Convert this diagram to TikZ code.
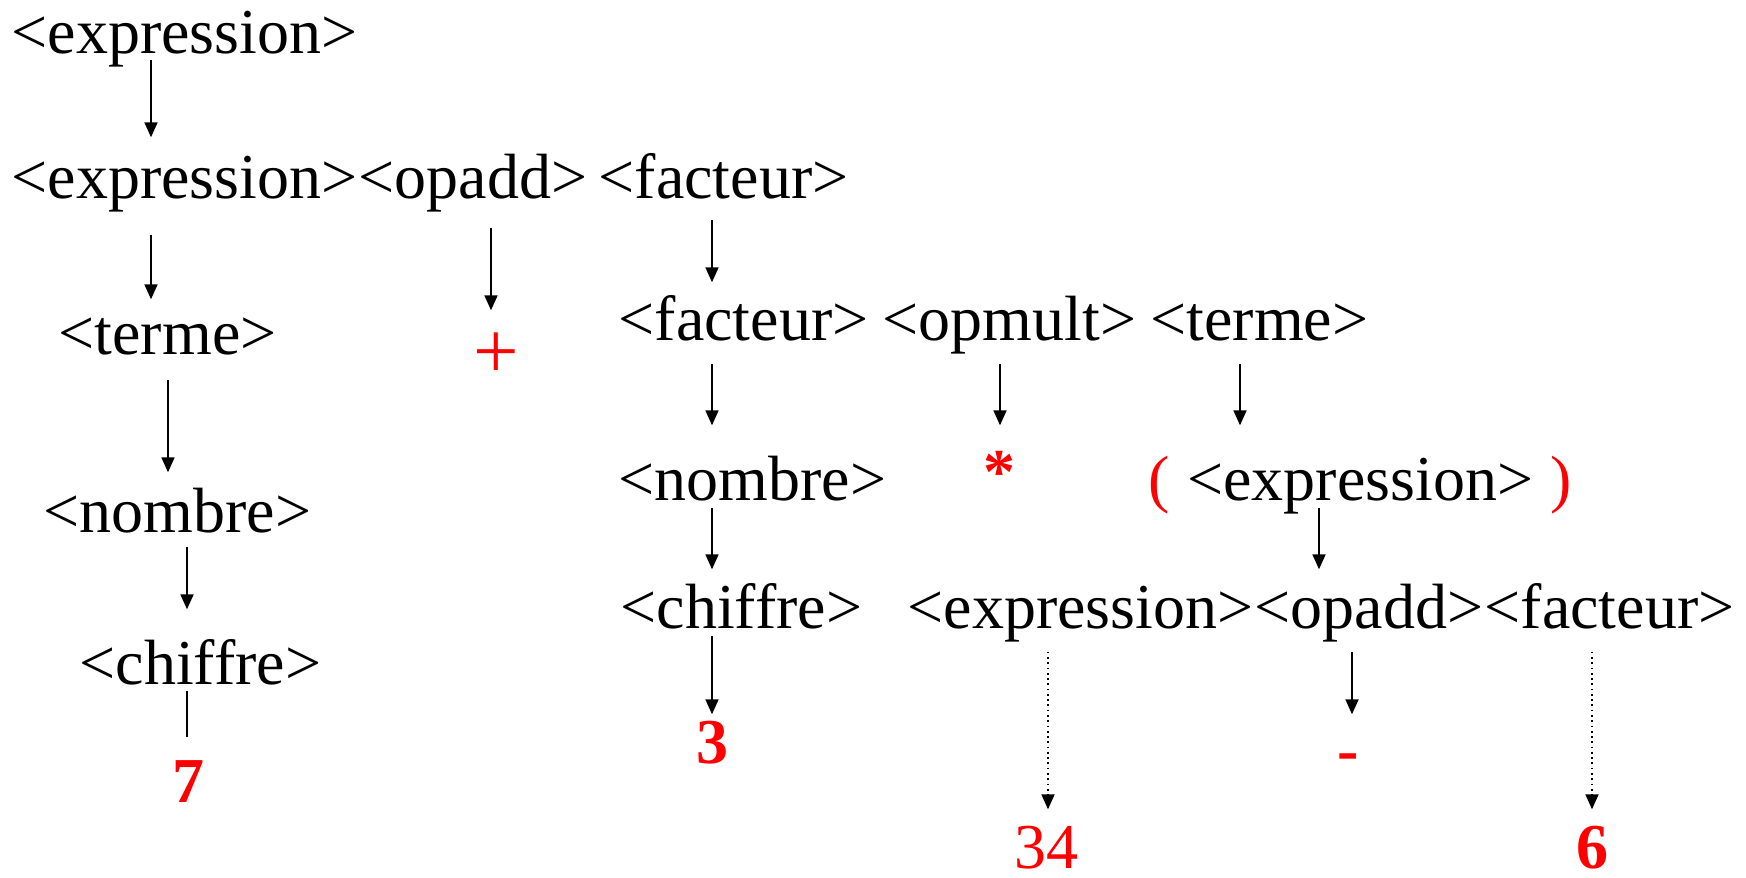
\documentclass[tikz,border=0pt]{standalone}
\usepackage{fontspec}
\setmainfont{Liberation Serif}
\usetikzlibrary{positioning,arrows.meta}

\newcommand{\treefont}{\fontsize{18.2}{22}\selectfont}
\tikzset{
	sym/.style={inner sep=0pt, text height=.45cm, text depth=.14cm, font=\treefont},
	tok/.style={sym, text=red},
	btok/.style={tok, font=\treefont\bfseries},
	arr/.style={-{Triangle[length=1.5mm,width=1.3mm]}, line width=.5pt},
	dotarr/.style={arr, densely dotted}
}

\begin{document}
\begin{tikzpicture}
			\useasboundingbox (0,0) rectangle (17.46,-8.77);

			% left branch
			\node[sym, anchor=base west] (e1) at (0.11,-0.53) {<expression>};
			\node[sym, anchor=base west] (e2) at (0.11,-1.98) {<expression>};
			\node[sym, base right=0pt of e2] (o2) {<opadd>};
			\node[sym, base right=1mm of o2] (f2) {<facteur>};
			\node[sym, anchor=base west] (t3) at (0.58,-3.54) {<terme>};
			\node[tok, anchor=base, font=\fontsize{23}{26}\selectfont] (plus) at (4.96,-3.78) {+};
			\node[sym, anchor=base west] (n4l) at (0.43,-5.32) {<nombre>};
			\node[sym, anchor=base west] (c5l) at (0.79,-6.84) {<chiffre>};
			\node[btok, anchor=base] (seven) at (1.88,-8.02) {7};

			% right branch
			\node[sym, anchor=base west] (f3) at (6.18,-3.40) {<facteur>};
			\node[sym, base right=1.3mm of f3] (om3) {<opmult>};
			\node[sym, base right=1.3mm of om3] (t3r) {<terme>};
			\node[sym, anchor=base west] (n4r) at (6.18,-5.00) {<nombre>};
			\node[btok, anchor=base] (star) at (9.99,-4.93) {*};
			\node[tok, anchor=base west] (lp) at (11.48,-5.00) {(};
			\node[sym, base right=1.6mm of lp] (e4) {<expression>};
			\node[tok, base right=1.6mm of e4] (rp) {)};
			\node[sym, anchor=base west] (c5r) at (6.20,-6.28) {<chiffre>};
			\node[sym, anchor=base west] (e5) at (9.07,-6.28) {<expression>};
			\node[sym, base right=0pt of e5] (o5) {<opadd>};
			\node[sym, base right=0pt of o5] (f5) {<facteur>};
			\node[btok, anchor=base] (three) at (7.12,-7.63) {3};
			\node[tok, anchor=base, text depth=0pt] (n34) at (10.46,-8.68) {34};
			\node[btok, anchor=base] (minus) at (13.48,-7.71) {-};
			\node[btok, anchor=base, text depth=0pt] (six) at (15.92,-8.68) {6};

			% derivations
			\draw[arr, shorten <=-.08cm, shorten >=.15cm] (1.51,0 |- e1.south) -- (1.51,0 |- e2.north);
			\draw[arr, shorten <=.22cm, shorten >=.09cm] (1.51,0 |- e2.south) -- (1.51,0 |- t3.north);
			\draw[arr, shorten <=.15cm, shorten >=.22cm] (4.91,0 |- o2.south) -- (4.91,0 |- plus.north);
			\draw[arr, shorten <=.07cm, shorten >=.12cm] (7.12,0 |- f2.south) -- (7.12,0 |- f3.north);
			\draw[arr, shorten <=.11cm, shorten >=.14cm] (1.68,0 |- t3.south) -- (1.68,0 |- n4l.north);
			\draw[arr, shorten <=.09cm, shorten >=.29cm] (7.12,0 |- f3.south) -- (7.12,0 |- n4r.north);
			\draw[arr, shorten <=.09cm, shorten >=.22cm] (10.00,0 |- om3.south) -- (10.00,0 |- star.north);
			\draw[arr, shorten <=.09cm, shorten >=.29cm] (12.40,0 |- t3r.south) -- (12.40,0 |- e4.north);
			\draw[arr, shorten >=.29cm] (1.87,0 |- n4l.south) -- (1.87,0 |- c5l.north);
			\draw[arr, shorten <=-.07cm, shorten >=.13cm] (7.12,0 |- n4r.south) -- (7.12,0 |- c5r.north);
			\draw[arr, shorten <=-.07cm, shorten >=.13cm] (13.19,0 |- e4.south) -- (13.19,0 |- o5.north);
			\draw[line width=.5pt, shorten <=-.08cm, shorten >=.19cm] (1.87,0 |- c5l.south) -- (1.87,0 |- seven.north);
			\draw[arr, shorten <=-.07cm, shorten >=.03cm] (7.12,0 |- c5r.south) -- (7.12,0 |- three.north);
			\draw[dotarr, shorten <=.09cm, shorten >=.13cm] (10.48,0 |- e5.south) -- (10.48,0 |- n34.north);
			\draw[arr, shorten <=.09cm, shorten >=.11cm] (13.52,0 |- o5.south) -- (13.52,0 |- minus.north);
			\draw[dotarr, shorten <=.09cm, shorten >=.13cm] (15.92,0 |- f5.south) -- (15.92,0 |- six.north);
		\end{tikzpicture}
\end{document}
